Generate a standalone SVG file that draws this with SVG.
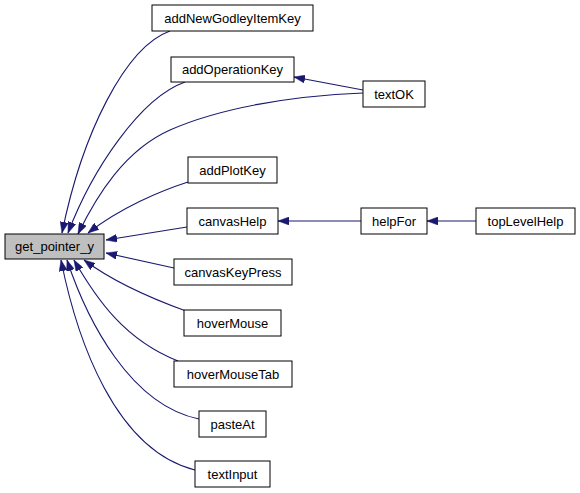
<svg xmlns="http://www.w3.org/2000/svg" width="580" height="493" viewBox="0 0 580 493">
<style>
.n rect{fill:#ffffff;stroke:#000000;stroke-width:1}
.n text{font-family:"Liberation Sans",Arial,sans-serif;font-size:13px;text-anchor:middle;fill:#000000}
.e path{fill:none;stroke:#191970;stroke-width:1.1}
</style>
<defs>
<marker id="ah" viewBox="0 0 11 8" refX="11" refY="4" markerWidth="11" markerHeight="8" markerUnits="userSpaceOnUse" orient="auto">
<path d="M0,0 L11,4 L0,8 z" fill="#191970" stroke="#191970" stroke-width="0.5"/>
</marker>
</defs>
<rect width="580" height="493" fill="#ffffff"/>
<g id="edges" class="e">
<path d="M170,31 C125,47 82,134 62,233" marker-end="url(#ah)"/>
<path d="M185,82 C140,98 92,170 68,233" marker-end="url(#ah)"/>
<path d="M363,93 C290,96 220,108 170,130 C125,150 97,195 78,234" marker-end="url(#ah)"/>
<path d="M188,182 C160,191 120,208 88,233" marker-end="url(#ah)"/>
<path d="M187,227 L106,240" marker-end="url(#ah)"/>
<path d="M174,268 L106,253" marker-end="url(#ah)"/>
<path d="M186,311 C150,298 115,283 84,260" marker-end="url(#ah)"/>
<path d="M178,361 C125,340 97,300 74,260" marker-end="url(#ah)"/>
<path d="M199,419 C130,405 87,320 67,260" marker-end="url(#ah)"/>
<path d="M195,470 C115,450 77,340 61,260" marker-end="url(#ah)"/>
<path d="M363,90 L294,77" marker-end="url(#ah)"/>
<path d="M361,221 L278,221" marker-end="url(#ah)"/>
<path d="M476,221 L427,221" marker-end="url(#ah)"/>
</g>
<g id="get_pointer_y" class="n"><rect x="5" y="234" width="99" height="25" style="fill:#bfbfbf"/><text x="54.5" y="251">get_pointer_y</text></g>
<g id="addNewGodleyItemKey" class="n"><rect x="152" y="5" width="161" height="26"/><text x="232.5" y="22.5">addNewGodleyItemKey</text></g>
<g id="addOperationKey" class="n"><rect x="171" y="57" width="123" height="25"/><text x="232.5" y="74">addOperationKey</text></g>
<g id="textOK" class="n"><rect x="363" y="81" width="62" height="26"/><text x="394" y="98.5">textOK</text></g>
<g id="addPlotKey" class="n"><rect x="188" y="157" width="89" height="26"/><text x="232.5" y="174.5">addPlotKey</text></g>
<g id="canvasHelp" class="n"><rect x="187" y="208" width="91" height="26"/><text x="232.5" y="225.5">canvasHelp</text></g>
<g id="helpFor" class="n"><rect x="361" y="208" width="66" height="26"/><text x="394" y="225.5">helpFor</text></g>
<g id="topLevelHelp" class="n"><rect x="476" y="208" width="99" height="26"/><text x="525.5" y="225.5">topLevelHelp</text></g>
<g id="canvasKeyPress" class="n"><rect x="174" y="259" width="118" height="26"/><text x="233" y="276.5">canvasKeyPress</text></g>
<g id="hoverMouse" class="n"><rect x="184" y="310" width="97" height="26"/><text x="232.5" y="327.5">hoverMouse</text></g>
<g id="hoverMouseTab" class="n"><rect x="174" y="361" width="118" height="26"/><text x="233" y="378.5">hoverMouseTab</text></g>
<g id="pasteAt" class="n"><rect x="199" y="411" width="67" height="26"/><text x="232.5" y="428.5">pasteAt</text></g>
<g id="textInput" class="n"><rect x="195" y="461" width="75" height="26"/><text x="232.5" y="478.5">textInput</text></g>
</svg>
